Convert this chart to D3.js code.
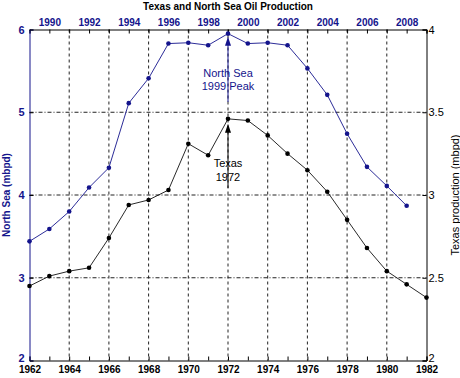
<!DOCTYPE html>
<html>
<head>
  <script src="https://d3js.org/d3.v7.min.js"></script>
  <style>
    body { margin: 0; background: #fff; }
    text { font-family: "Liberation Sans", Arial, sans-serif; }
  </style>
</head>
<body>
  <div id="chart"></div>
  <script>

  // Texas production, bottom axis years / right axis
  var texasYears = [1962, 1963, 1964, 1965, 1966, 1967, 1968, 1969, 1970, 1971, 1972,
                    1973, 1974, 1975, 1976, 1977, 1978, 1979, 1980, 1981, 1982];
  var texasValues = [2.45, 2.51, 2.54, 2.56, 2.74, 2.94, 2.97, 3.03, 3.31, 3.24, 3.46,
                     3.45, 3.36, 3.25, 3.15, 3.02, 2.85, 2.68, 2.54, 2.46, 2.38];

  // North Sea production, top axis years / left axis
  var northSeaYears = [1989, 1990, 1991, 1992, 1993, 1994, 1995, 1996, 1997, 1998,
                       1999, 2000, 2001, 2002, 2003, 2004, 2005, 2006, 2007, 2008];
  var northSeaValues = [3.44, 3.59, 3.80, 4.09, 4.33, 5.11, 5.41, 5.83, 5.84, 5.81,
                        5.95, 5.83, 5.84, 5.81, 5.53, 5.21, 4.74, 4.34, 4.11, 3.87];

  var bottomTicks = [1962, 1964, 1966, 1968, 1970, 1972, 1974, 1976, 1978, 1980, 1982];
  var topTicks = [1990, 1992, 1994, 1996, 1998, 2000, 2002, 2004, 2006, 2008];
  var leftTicks = [2, 3, 4, 5, 6];
  var rightTicks = [2, 2.5, 3, 3.5, 4];

  var width = 460,
      height = 378,
      plotL = 29.5, plotR = 426.5, plotT = 29.5, plotB = 360.5;

  var blue = "#14148c";

  var svg = d3.select("#chart").append("svg")
    .attr("width", width)
    .attr("height", height);

  var xBottom = d3.scaleLinear().domain([1962, 1982]).range([plotL, plotR]);
  var xTop = d3.scaleLinear().domain([1989, 2009]).range([plotL, plotR]);
  var yLeft = d3.scaleLinear().domain([2, 6]).range([plotB, plotT]);
  var yRight = d3.scaleLinear().domain([2, 4]).range([plotB, plotT]);

  // grid
  svg.append("g").selectAll("line")
    .data(bottomTicks.slice(1, -1))
    .enter().append("line")
    .attr("x1", function(d) { return xBottom(d); })
    .attr("x2", function(d) { return xBottom(d); })
    .attr("y1", plotT).attr("y2", plotB)
    .attr("stroke", "#222")
    .attr("stroke-dasharray", "3,3");

  svg.append("g").selectAll("line")
    .data(leftTicks.slice(1, -1))
    .enter().append("line")
    .attr("x1", plotL).attr("x2", plotR)
    .attr("y1", function(d) { return yLeft(d); })
    .attr("y2", function(d) { return yLeft(d); })
    .attr("stroke", "#222")
    .attr("stroke-dasharray", "4,2,1,2");

  // axes (ticks point inside)
  var axB = svg.append("g")
    .attr("transform", "translate(0," + plotB + ")")
    .call(d3.axisBottom(xBottom).tickValues(texasYears).tickSize(-4).tickPadding(5)
      .tickFormat(function(d) { return bottomTicks.indexOf(d) >= 0 ? d : ""; }));

  var axT = svg.append("g")
    .attr("transform", "translate(0," + plotT + ")")
    .call(d3.axisTop(xTop).tickValues(northSeaYears.concat([2009])).tickSize(-4).tickPadding(4)
      .tickFormat(function(d) { return topTicks.indexOf(d) >= 0 ? d : ""; }));

  var axL = svg.append("g")
    .attr("transform", "translate(" + plotL + ",0)")
    .call(d3.axisLeft(yLeft).tickValues(leftTicks).tickSize(-4).tickPadding(5)
      .tickFormat(d3.format("d")));

  var axR = svg.append("g")
    .attr("transform", "translate(" + plotR + ",0)")
    .call(d3.axisRight(yRight).tickValues(rightTicks).tickSize(-4).tickPadding(2)
      .tickFormat(function(d) { return d; }));

  [axB, axT, axL, axR].forEach(function(a) {
    a.select(".domain").attr("stroke", "#000");
    a.selectAll(".tick line").attr("stroke", "#000");
    a.selectAll("text")
      .style("font-size", "10px")
      .style("font-weight", "bold")
      .attr("fill", "#000");
  });
  axR.selectAll("text").style("font-weight", "normal").style("font-size", "11px");
  axT.selectAll("text").attr("fill", blue);
  axL.selectAll("text").attr("fill", blue).style("font-size", "11px");
  axL.select(".domain").attr("stroke", blue);

  // lowest labels on the side axes sit a little higher, clear of the year labels
  axL.selectAll(".tick").filter(function(d) { return d === 2; }).select("text").attr("dy", "0.1em");
  axR.selectAll(".tick").filter(function(d) { return d === 2; }).select("text").attr("dy", "0.1em");

  // lines
  var nsLine = d3.line()
    .x(function(d, i) { return xTop(northSeaYears[i]); })
    .y(function(d) { return yLeft(d); });

  var txLine = d3.line()
    .x(function(d, i) { return xBottom(texasYears[i]); })
    .y(function(d) { return yRight(d); });

  svg.append("path")
    .datum(northSeaValues)
    .attr("fill", "none")
    .attr("stroke", blue)
    .attr("stroke-width", 0.9)
    .attr("d", nsLine);

  svg.append("path")
    .datum(texasValues)
    .attr("fill", "none")
    .attr("stroke", "#111")
    .attr("stroke-width", 0.9)
    .attr("d", txLine);

  svg.append("g").selectAll("circle")
    .data(northSeaValues)
    .enter().append("circle")
    .attr("cx", function(d, i) { return xTop(northSeaYears[i]); })
    .attr("cy", function(d) { return yLeft(d); })
    .attr("r", 2.3)
    .attr("fill", blue);

  svg.append("g").selectAll("circle")
    .data(texasValues)
    .enter().append("circle")
    .attr("cx", function(d, i) { return xBottom(texasYears[i]); })
    .attr("cy", function(d) { return yRight(d); })
    .attr("r", 2.3)
    .attr("fill", "#000");

  // annotations
  function arrow(x, y1, y2, color) {
    svg.append("line")
      .attr("x1", x).attr("x2", x)
      .attr("y1", y1).attr("y2", y2 + 6)
      .attr("stroke", color).attr("stroke-width", 1);
    svg.append("path")
      .attr("d", "M" + x + "," + y2 + "L" + (x - 3) + "," + (y2 + 9) + "L" + (x + 3) + "," + (y2 + 9) + "Z")
      .attr("fill", color);
  }

  var nsPeak = northSeaValues[northSeaYears.indexOf(1999)];
  var txPeak = texasValues[texasYears.indexOf(1972)];

  arrow(xTop(1999), 102, yLeft(nsPeak) + 3, blue);
  arrow(xBottom(1972), 188, yRight(txPeak) + 5, "#000");

  var nsLabel = svg.append("text")
    .attr("text-anchor", "middle")
    .attr("fill", blue)
    .style("font-size", "11px");
  nsLabel.append("tspan").attr("x", xTop(1999)).attr("y", 77).text("North Sea");
  nsLabel.append("tspan").attr("x", xTop(1999)).attr("y", 90).text("1999 Peak");

  var txLabel = svg.append("text")
    .attr("text-anchor", "middle")
    .attr("fill", "#000")
    .style("font-size", "11px");
  txLabel.append("tspan").attr("x", xBottom(1972)).attr("y", 167).text("Texas");
  txLabel.append("tspan").attr("x", xBottom(1972)).attr("y", 181).text("1972");

  // titles
  svg.append("text")
    .attr("x", (plotL + plotR) / 2)
    .attr("y", 10)
    .attr("text-anchor", "middle")
    .style("font-size", "10px")
    .style("font-weight", "bold")
    .text("Texas and North Sea Oil Production");

  svg.append("text")
    .attr("transform", "translate(10," + ((plotT + plotB) / 2) + ") rotate(-90)")
    .attr("text-anchor", "middle")
    .attr("fill", blue)
    .style("font-size", "10px")
    .style("font-weight", "bold")
    .text("North Sea (mbpd)");

  svg.append("text")
    .attr("transform", "translate(459," + ((plotT + plotB) / 2) + ") rotate(-90)")
    .attr("text-anchor", "middle")
    .style("font-size", "11px")
    .text("Texas production (mbpd)");

  </script>
</body>
</html>
